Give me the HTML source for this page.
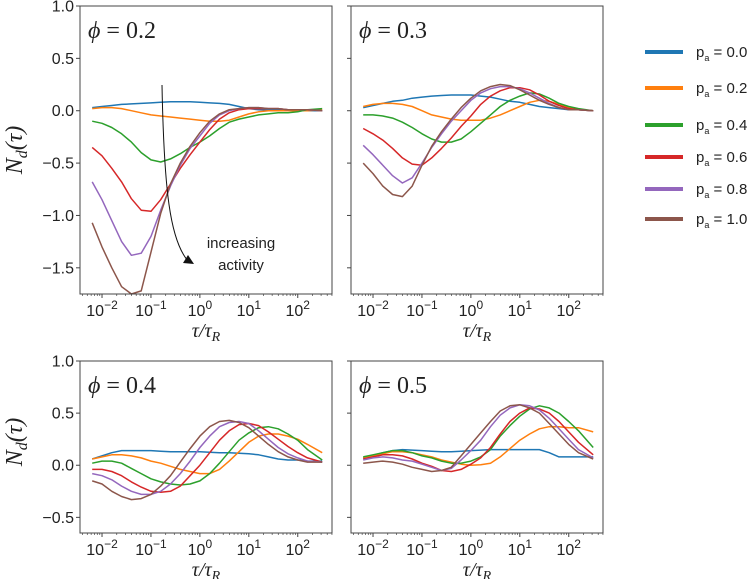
<!DOCTYPE html>
<html><head><meta charset="utf-8">
<style>
html,body{margin:0;padding:0;background:#fff;}
svg{display:block;font-family:"Liberation Sans",sans-serif;}
</style></head>
<body>
<svg id="fig" width="747" height="579" viewBox="0 0 747 579" xmlns="http://www.w3.org/2000/svg"></svg>
<script>
const gridLog = [-2.2,-2,-1.8,-1.6,-1.4,-1.2,-1,-0.8,-0.6,-0.4,-0.2,0,0.2,0.4,0.6,0.8,1,1.2,1.4,1.6,1.8,2,2.2,2.5];
const seriesLabels = ["0.0","0.2","0.4","0.6","0.8","1.0"];
const colors = ["#1f77b4","#ff7f0e","#2ca02c","#d62728","#9467bd","#8c564b"];
const p1 = [
[.03,.04,.05,.06,.065,.07,.075,.08,.085,.085,.085,.08,.075,.07,.06,.04,.02,.01,.01,.01,0,0,0,0],
[.02,.03,.03,.02,0,-.02,-.04,-.05,-.06,-.07,-.08,-.09,-.1,-.1,-.09,-.06,-.03,-.01,0,0,0,0,0,.01],
[-.1,-.12,-.16,-.22,-.3,-.4,-.47,-.49,-.46,-.41,-.35,-.3,-.24,-.17,-.11,-.08,-.06,-.04,-.03,-.02,-.02,-.01,.01,.02],
[-.35,-.43,-.55,-.68,-.84,-.95,-.96,-.85,-.7,-.55,-.42,-.3,-.18,-.08,-.02,.01,.02,.02,.02,.02,.01,.01,.01,0],
[-.68,-.85,-1.05,-1.25,-1.38,-1.36,-1.2,-.95,-.72,-.52,-.36,-.24,-.12,-.04,0,.02,.03,.03,.02,.02,.01,.01,.01,0],
[-1.07,-1.3,-1.5,-1.68,-1.75,-1.72,-1.35,-.98,-.7,-.5,-.34,-.21,-.1,-.03,.01,.02,.03,.03,.02,.02,.01,.01,.01,0]];
const p2 = [
[.03,.05,.07,.09,.1,.12,.13,.14,.145,.15,.15,.15,.14,.13,.11,.09,.08,.06,.04,.03,.02,.01,.01,0],
[.04,.06,.07,.07,.06,.04,0,-.04,-.06,-.08,-.09,-.09,-.09,-.07,-.04,0,.04,.08,.1,.09,.06,.03,.01,0],
[-.04,-.04,-.05,-.07,-.11,-.16,-.22,-.27,-.3,-.3,-.27,-.2,-.12,-.04,.04,.1,.14,.17,.16,.12,.07,.04,.02,0],
[-.17,-.22,-.28,-.36,-.45,-.51,-.52,-.45,-.36,-.26,-.15,-.05,.06,.14,.19,.22,.22,.2,.15,.09,.05,.02,.01,0],
[-.33,-.42,-.52,-.62,-.69,-.64,-.5,-.35,-.22,-.1,0,.1,.17,.21,.23,.23,.21,.17,.12,.07,.03,.01,.01,0],
[-.5,-.6,-.72,-.8,-.82,-.72,-.52,-.34,-.2,-.08,.03,.12,.19,.23,.25,.24,.2,.15,.1,.06,.03,.01,.01,0]];
const p3 = [
[.06,.09,.12,.14,.14,.14,.14,.135,.13,.13,.13,.13,.125,.12,.12,.115,.11,.1,.08,.06,.05,.05,.04,.04],
[.06,.08,.1,.1,.09,.07,.04,.02,-.01,-.04,-.06,-.08,-.08,-.04,.04,.13,.22,.28,.3,.3,.28,.25,.2,.12],
[.02,.04,.04,.02,-.03,-.08,-.13,-.16,-.18,-.19,-.18,-.15,-.08,.02,.13,.24,.31,.36,.37,.35,.3,.24,.15,.05],
[-.04,-.04,-.06,-.1,-.16,-.21,-.25,-.26,-.25,-.2,-.1,0,.12,.24,.33,.39,.4,.38,.32,.25,.18,.12,.07,.03],
[-.08,-.1,-.14,-.2,-.25,-.28,-.28,-.25,-.18,-.08,.04,.17,.28,.37,.41,.42,.4,.33,.25,.17,.11,.07,.04,.03],
[-.15,-.18,-.25,-.3,-.33,-.32,-.28,-.2,-.1,.03,.16,.28,.37,.42,.43,.41,.36,.28,.2,.13,.08,.05,.03,.03]];
const p4 = [
[.07,.09,.12,.14,.15,.145,.14,.135,.13,.13,.135,.14,.145,.15,.15,.15,.15,.15,.15,.12,.08,.08,.08,.08],
[.07,.09,.11,.13,.13,.12,.1,.08,.05,.03,.01,0,.005,.02,.08,.16,.24,.3,.35,.37,.37,.36,.36,.32],
[.08,.1,.12,.14,.14,.12,.09,.07,.04,.02,.02,.04,.08,.15,.28,.38,.47,.54,.57,.55,.5,.42,.33,.17],
[.06,.08,.1,.1,.09,.06,.02,-.01,-.05,-.06,-.04,.01,.07,.17,.3,.42,.5,.55,.54,.5,.42,.32,.22,.1],
[.05,.07,.08,.07,.05,.04,.01,-.02,-.05,-.03,.05,.14,.24,.37,.48,.55,.58,.57,.53,.45,.35,.25,.15,.07],
[.02,.03,.04,.03,.01,-.02,-.04,-.06,-.05,-.02,.09,.2,.31,.42,.52,.57,.58,.55,.5,.4,.3,.2,.12,.06]];
const phiLabels = ["0.2","0.3","0.4","0.5"];
const yTicksTop = [1.0,0.5,0.0,-0.5,-1.0,-1.5];
const yTicksBot = [1.0,0.5,0.0,-0.5];
const xTickExp = [-2,-1,0,1,2];

const NS="http://www.w3.org/2000/svg";
const svg=document.getElementById('fig');
function mk(tag,attrs,parent){const e=document.createElementNS(NS,tag);for(const k in attrs)e.setAttribute(k,attrs[k]);(parent||svg).appendChild(e);return e;}
const panels=[
 {x:80,y:6,w:252,h:288,ymin:-1.75,ymax:1.0,data:p1,ticks:yTicksTop,labels:true},
 {x:351,y:6,w:252,h:288,ymin:-1.75,ymax:1.0,data:p2,ticks:yTicksTop,labels:false},
 {x:80,y:361,w:252,h:172,ymin:-0.65,ymax:1.0,data:p3,ticks:yTicksBot,labels:true},
 {x:351,y:361,w:252,h:172,ymin:-0.65,ymax:1.0,data:p4,ticks:yTicksBot,labels:false}];
const LX0=-2.45,LX1=2.7;
panels.forEach((p,pi)=>{
  const g=mk('g',{});
  
  
  const xs=v=>p.x+(v-LX0)/(LX1-LX0)*p.w;
  const ys=v=>p.y+(p.ymax-v)/(p.ymax-p.ymin)*p.h;
  p.data.forEach((ser,si)=>{
    const pts=ser.map((v,i)=>xs(gridLog[i]).toFixed(1)+','+ys(v).toFixed(1)).join(' ');
    const l=mk('polyline',{points:pts,fill:'none',stroke:colors[si],'stroke-width':1.5,'stroke-linejoin':'round'},g);
    
    
  });
  const fr=mk('rect',{x:p.x,y:p.y,width:p.w,height:p.h,fill:'none',stroke:'#444','stroke-width':1},g);
  
  
  p.ticks.forEach(t=>{
    const y=ys(t);
    mk('line',{x1:p.x-4,x2:p.x,y1:y,y2:y,stroke:'#444'},g);
    if(p.labels){
      const tx=mk('text',{x:p.x-6,y:y+5.5,'text-anchor':'end','font-size':16,fill:'#222'},g);
      tx.textContent=(t<0?'\u2212':'')+Math.abs(t).toFixed(1);
      
      
    }
  });
  for(let e=-3;e<=2;e++){for(let m=1;m<10;m++){const lv=e+Math.log10(m);if(lv<LX0||lv>LX1)continue;const x=xs(lv);mk('line',{x1:x,x2:x,y1:p.y+p.h,y2:p.y+p.h+(m==1?4:2),stroke:'#444','stroke-width':m==1?1:0.7},g);}}
  xTickExp.forEach(e=>{
    const tx=mk('text',{x:xs(e),y:p.y+p.h+22,'text-anchor':'middle','font-size':16,fill:'#222'},g);
    
    
    const b=mk('tspan',{},tx);b.textContent='10';
    const s=mk('tspan',{dy:-7,'font-size':12},tx);s.textContent=(e<0?'\u2212':'')+Math.abs(e);
  });
  const xt=mk('text',{x:p.x+p.w/2,y:p.y+p.h+43,'text-anchor':'middle','font-size':20,'font-family':'Liberation Serif, serif','font-style':'italic',fill:'#222'},g);
  
  
  const t1=mk('tspan',{},xt);t1.textContent='\u03C4/\u03C4';
  const t2=mk('tspan',{dy:4,'font-size':14},xt);t2.textContent='R';
  const ph=mk('text',{x:p.x+8,y:p.y+32,'font-size':24,'font-family':'Liberation Serif, serif',fill:'#222'},g);
  
  
  const a=mk('tspan',{'font-style':'italic'},ph);a.textContent='\u03D5';
  const b2=mk('tspan',{},ph);b2.textContent=' = '+phiLabels[pi];
  if(p.labels){
    const cy=p.y+p.h/2+ (pi==0?0:-5);
    const yt=mk('text',{x:0,y:0,transform:`translate(22,${cy}) rotate(-90)`,'text-anchor':'middle','font-size':24,'font-family':'Liberation Serif, serif','font-style':'italic',fill:'#222'},g);
    
    
    const n=mk('tspan',{},yt);n.textContent='N';
    const d=mk('tspan',{dy:5,'font-size':16},yt);d.textContent='d';
    const r=mk('tspan',{dy:-5},yt);r.textContent='(\u03C4)';
  }
});
const ann=mk('g',{});


mk('path',{d:'M162,85 C164,190 170,240 188,261',fill:'none',stroke:'#111','stroke-width':1},ann);
mk('path',{d:'M194,264 L183,263 L188,255 Z',fill:'#111'},ann);
const at1=mk('text',{x:241,y:248,'text-anchor':'middle','font-size':15,fill:'#222'},ann);at1.textContent='increasing';
const at2=mk('text',{x:241,y:270,'text-anchor':'middle','font-size':15,fill:'#222'},ann);at2.textContent='activity';
const leg=mk('g',{});


const legY=[52,88,125,157,189,219];
seriesLabels.forEach((s,i)=>{
  const e=mk('g',{},leg);
  
  
  mk('line',{x1:645,x2:683,y1:legY[i],y2:legY[i],stroke:colors[i],'stroke-width':4},e);
  const t=mk('text',{x:696,y:legY[i]+5,'font-size':15,fill:'#222'},e);
  const a=mk('tspan',{},t);a.textContent='p';
  const b=mk('tspan',{dy:4,'font-size':9},t);b.textContent='a';
  const c=mk('tspan',{dy:-4},t);c.textContent=' = '+s;
});
</script>
</body></html>
